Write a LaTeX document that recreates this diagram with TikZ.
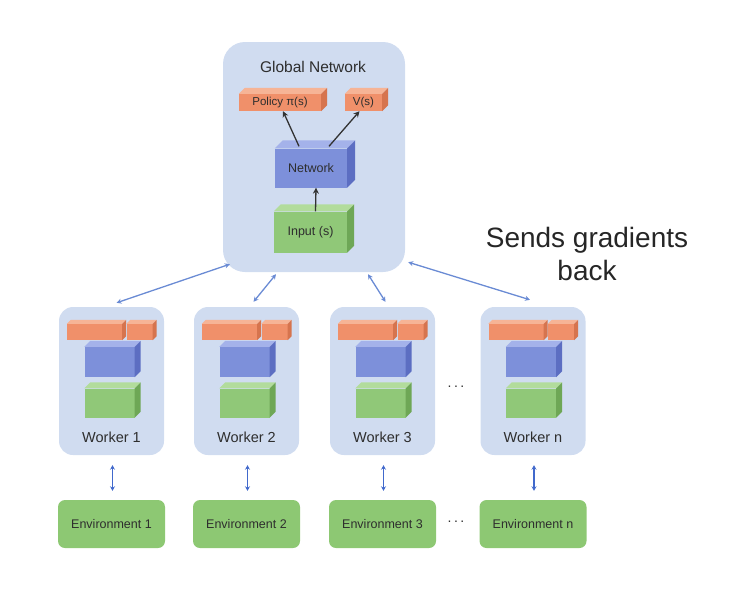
\documentclass[tikz,border=0pt]{standalone}
\usepackage{fontspec}
\setmainfont{Liberation Sans}
\usetikzlibrary{arrows.meta}

\definecolor{panel}{HTML}{D0DCF0}
\definecolor{ink}{HTML}{2E2E2E}
\definecolor{link}{HTML}{6A8BD4}
\definecolor{linkdark}{HTML}{4169CC}
\definecolor{pol}{HTML}{F0906A}
\definecolor{poltop}{HTML}{F6B496}
\definecolor{polside}{HTML}{D6744E}
\definecolor{net}{HTML}{7D90DA}
\definecolor{nettop}{HTML}{A4B2EA}
\definecolor{netside}{HTML}{5C6EC2}
\definecolor{inp}{HTML}{90C878}
\definecolor{inptop}{HTML}{B2DC9C}
\definecolor{inpside}{HTML}{6EA756}
\definecolor{envfill}{HTML}{8DC873}

\tikzset{
  face/.style={fill=#1, draw=none, inner sep=0pt, text=ink,
    font=\fontsize{12.5}{14}\selectfont},
  panelbox/.style={fill=panel, draw=none, rounded corners=#1},
  envbox/.style={fill=envfill, draw=none, rounded corners=7pt, text=ink,
    minimum width=107pt, minimum height=48pt, font=\fontsize{12.5}{14}\selectfont},
  caption/.style={text=ink, font=\fontsize{14.5}{16}\selectfont},
  link/.style={draw=link, line width=1.3pt,
    {Stealth[length=5pt,width=5pt]}-{Stealth[length=5pt,width=5pt]}},
  envlink/.style={draw=linkdark, line width=1.6pt,
    {Stealth[length=4.5pt,width=5pt]}-{Stealth[length=4.5pt,width=5pt]},
    shorten <=10pt, shorten >=9pt},
  feed/.style={draw=black!80, line width=1.3pt, -{Stealth[length=6pt,width=6pt]}}
}

% name, x, y, width, height, colour, text, depth
\newcommand{\Cube}[8]{%
  \node[face=#6, minimum width=#4pt, minimum height=#5pt] (#1) at (#2,#3) {#7};
  \fill[#6top] (#1.north west) -- ([shift={(#8pt,#8pt)}]#1.north west)
    -- ([shift={(#8pt,#8pt)}]#1.north east) -- (#1.north east) -- cycle;
  \fill[#6side] (#1.north east) -- ([shift={(#8pt,#8pt)}]#1.north east)
    -- ([shift={(#8pt,#8pt)}]#1.south east) -- (#1.south east) -- cycle;
}

% name, centre x, worker label, environment label
\newcommand{\Worker}[4]{%
  \node[panelbox=14pt, minimum width=105pt, minimum height=148pt] (#1) at (#2,381) {};
  \Cube{#1pol}{#2-17}{332}{55}{16}{pol}{}{4}
  \Cube{#1val}{#2+28}{332}{26}{16}{pol}{}{4}
  \Cube{#1net}{#2-2}{362}{50}{30}{net}{}{6}
  \Cube{#1inp}{#2-2}{403}{50}{29}{inp}{}{6}
  \node[caption] (#1txt) at (#2,437) {#3};
  \node[envbox] (#1env) at (#2,524) {#4};
  \draw[envlink] ([xshift=1pt]#1.south) -- ([xshift=1pt]#1env.north);
}

\begin{document}
\begin{tikzpicture}[x=1pt,y=-1pt]

        \useasboundingbox (0,0) rectangle (733,600);

        \node[panelbox=22pt, minimum width=182pt, minimum height=230pt] (global) at (314,157) {};
        \node[text=ink, font=\fontsize{15.5}{18}\selectfont] (gtitle) at (313,67) {Global Network};
        \Cube{policy}{280}{102.5}{82}{17}{pol}{\fontsize{11.5}{13}\selectfont Policy π(s)}{6}
        \Cube{value}{363.5}{102.5}{37}{17}{pol}{\fontsize{11.5}{13}\selectfont V(s)}{6}
        \Cube{network}{311}{168}{72}{39}{net}{Network}{8}
        \Cube{input}{310.5}{232}{73}{41}{inp}{Input (s)}{7}
        \draw[feed] ([xshift=-12pt,yshift=2pt]network.north) -- ([xshift=3pt]policy.south);
        \draw[feed] ([xshift=18pt,yshift=2pt]network.north) -- ([xshift=-4pt]value.south);
        \draw[feed] ([xshift=5pt]input.north) -- ([xshift=5pt]network.south);

        \Worker{wa}{111.5}{Worker 1}{Environment 1}
        \Worker{wb}{246.5}{Worker 2}{Environment 2}
        \Worker{wc}{382.5}{Worker 3}{Environment 3}
        \Worker{wn}{533}{Worker n}{Environment n}

        \node[text=ink, font=\fontsize{14}{16}\selectfont] (dotsw) at (456,387) {.\hspace{2.5pt}.\hspace{2.5pt}.};
        \node[text=ink, font=\fontsize{14}{16}\selectfont] (dotse) at (456,522) {.\hspace{2.5pt}.\hspace{2.5pt}.};

        \draw[link] ([shift={(7pt,8pt)}]global.south west) -- ([shift={(5pt,4pt)}]wa.north);
        \draw[link] ([shift={(-38pt,-2pt)}]global.south) -- ([shift={(7pt,5pt)}]wb.north);
        \draw[link] ([shift={(54pt,-2pt)}]global.south) -- ([shift={(3pt,5pt)}]wc.north);
        \draw[link] ([shift={(3pt,10pt)}]global.south east) -- ([shift={(-3pt,7pt)}]wn.north);

        \node[text=black!85, align=center, font=\fontsize{28}{33}\selectfont] (grad) at (587,254) {Sends gradients\\back};

    \end{tikzpicture}
\end{document}
